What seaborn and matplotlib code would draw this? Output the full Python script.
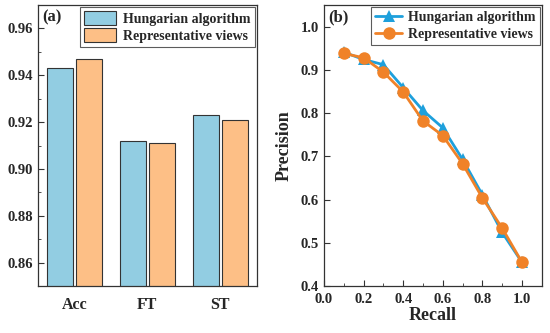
import pandas as pd
import matplotlib.pyplot as plt
import seaborn as sns
from matplotlib.ticker import MultipleLocator

# bar panel (a)
metrics = ['Acc', 'FT', 'ST']
hungarian_scores = [0.943, 0.912, 0.923]
representative_scores = [0.947, 0.911, 0.921]

# PR curve panel (b)
recall = [0.1, 0.2, 0.3, 0.4, 0.5, 0.6, 0.7, 0.8, 0.9, 1.0]
hungarian_precision = [0.941, 0.924, 0.912, 0.859, 0.806, 0.766, 0.693, 0.611, 0.524, 0.455]
representative_precision = [0.938, 0.928, 0.895, 0.849, 0.782, 0.748, 0.683, 0.604, 0.534, 0.455]

methods = ['Hungarian algorithm', 'Representative views']

sns.set_style('ticks')
plt.rcParams['font.family'] = ['Liberation Serif', 'DejaVu Serif']
plt.rcParams['font.weight'] = 'bold'
plt.rcParams['axes.labelweight'] = 'bold'

edge = '#333333'

bar_df = pd.DataFrame({
    'metric': metrics * 2,
    'score': hungarian_scores + representative_scores,
    'method': [methods[0]] * 3 + [methods[1]] * 3,
})
line_df = pd.DataFrame({
    'recall': recall * 2,
    'precision': hungarian_precision + representative_precision,
    'method': [methods[0]] * len(recall) + [methods[1]] * len(recall),
})

fig = plt.figure(figsize=(5.5, 3.33), dpi=100)
ax1 = fig.add_axes([0.069, 0.141, 0.398, 0.844])
ax2 = fig.add_axes([0.589, 0.141, 0.396, 0.844])

sns.barplot(data=bar_df, x='metric', y='score', hue='method', ax=ax1,
            palette=['#92CDE2', '#FDBF86'], saturation=1, width=0.8, gap=0.1,
            edgecolor=edge, linewidth=0.8)
ax1.set_ylim(0.85, 0.97)
ax1.set_xlim(-0.5, 2.5)
ax1.yaxis.set_major_locator(MultipleLocator(0.02))
ax1.yaxis.set_minor_locator(MultipleLocator(0.01))
ax1.set_xlabel('')
ax1.set_ylabel('')
ax1.tick_params(axis='x', length=0, labelsize=11.5, pad=8)
ax1.tick_params(axis='y', which='both', direction='in', labelsize=10.5, color=edge)
ax1.tick_params(axis='y', which='major', length=4)
ax1.tick_params(axis='y', which='minor', length=2)
ax1.text(0.02, 0.985, '(a)', transform=ax1.transAxes, fontsize=12,
         fontweight='bold', va='top', ha='left')
leg1 = ax1.legend(loc='upper right', fontsize=10, frameon=True, fancybox=False,
                  edgecolor=edge, handlelength=2.3, handleheight=1.1,
                  labelspacing=0.2, borderpad=0.3, handletextpad=0.5,
                  borderaxespad=0.15)
leg1.get_frame().set_linewidth(0.8)

sns.lineplot(data=line_df, x='recall', y='precision', hue='method',
             style='method', markers=['^', 'o'], dashes=False, ax=ax2,
             palette=['#1EA0DC', '#F08228'], linewidth=2, markersize=9,
             markeredgewidth=0)
ax2.set_xlim(0.0, 1.1)
ax2.set_ylim(0.4, 1.05)
ax2.xaxis.set_major_locator(MultipleLocator(0.2))
ax2.xaxis.set_minor_locator(MultipleLocator(0.1))
ax2.yaxis.set_major_locator(MultipleLocator(0.1))
ax2.set_xlabel('Recall', fontsize=13, labelpad=1)
ax2.set_ylabel('Precision', fontsize=13, labelpad=6)
ax2.tick_params(which='both', direction='in', labelsize=10.5, color=edge)
ax2.tick_params(which='major', length=4)
ax2.tick_params(which='minor', length=2)
ax2.tick_params(axis='x', pad=5)
ax2.text(0.02, 0.985, '(b)', transform=ax2.transAxes, fontsize=12,
         fontweight='bold', va='top', ha='left')
leg2 = ax2.legend(loc='upper right', fontsize=10, frameon=True, fancybox=False,
                  edgecolor=edge, handlelength=2.0, labelspacing=0.25,
                  borderpad=0.3, handletextpad=0.4, borderaxespad=0.15,
                  markerscale=1.0)
leg2.get_frame().set_linewidth(0.8)

for ax in (ax1, ax2):
    for spine in ax.spines.values():
        spine.set_visible(True)
        spine.set_color(edge)
        spine.set_linewidth(0.9)

fig.savefig('out.png', dpi=100)
